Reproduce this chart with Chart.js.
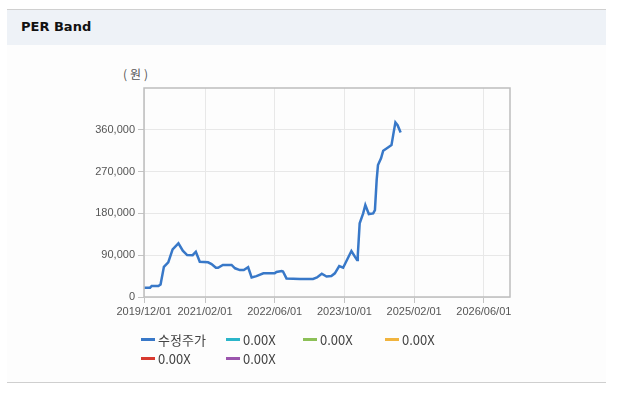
<!DOCTYPE html>
<html>
<head>
<meta charset="utf-8">
<script src="https://cdn.jsdelivr.net/npm/chart.js@4"></script>
<style>
  body { margin: 0; background: #fff; width: 617px; height: 397px; position: relative; overflow: hidden; font-family: Arial, "Liberation Sans", sans-serif; }
  #titlebar { position: absolute; left: 7px; top: 9px; width: 599px; height: 35px; border-top: 1px solid #d0d0d0; background: #eef2f7; }
  #titlebar span { position: absolute; left: 14px; top: 9px; font: bold 13px "DejaVu Sans", sans-serif; color: #111; }
  #panel { position: absolute; left: 7px; top: 45px; width: 599px; height: 337px; background: #fdfdfd; border-bottom: 1px solid #cfcfcf; }
  #unit { position: absolute; left: 123px; top: 65px; font: 12px "Noto Sans CJK KR", sans-serif; color: #555; letter-spacing: 3px; }
  #chart { position: absolute; left: 0; top: 0; }
  #legend { position: absolute; left: 141px; top: 330px; display: grid; grid-template-columns: 85px 77px 82px 80px; row-gap: 1px; }
  .item { display: flex; align-items: center; height: 18px; font: 13px "Noto Sans CJK KR", Arial, sans-serif; color: #444; }
  .item i { display: inline-block; width: 14px; height: 3px; margin-right: 3px; }
</style>
</head>
<body>
<div id="titlebar"><span>PER Band</span></div>
<div id="panel"></div>
<div id="unit">(원)</div>
<canvas id="chart" width="617" height="397"></canvas>
<div id="legend"></div>
<script>
// 수정주가 (adjusted price)
const dates = [
  "2019/12/03", "2020/01/13", "2020/01/24", "2020/03/10", "2020/03/25", "2020/04/18",
  "2020/05/18", "2020/06/18", "2020/07/28", "2020/08/28", "2020/09/28", "2020/11/06",
  "2020/11/28", "2020/12/25", "2021/02/22", "2021/03/16", "2021/04/16", "2021/05/01",
  "2021/06/04", "2021/08/04", "2021/08/28", "2021/10/01", "2021/10/28", "2021/11/28",
  "2021/12/22", "2022/01/25", "2022/03/13", "2022/06/01", "2022/06/13", "2022/07/19",
  "2022/07/28", "2022/08/22", "2022/11/25", "2023/02/25", "2023/03/22", "2023/04/25",
  "2023/05/28", "2023/07/01", "2023/07/25", "2023/08/25", "2023/09/22", "2023/11/19",
  "2023/12/13", "2023/12/28", "2024/01/03", "2024/01/16", "2024/02/10", "2024/02/25",
  "2024/03/19", "2024/04/19", "2024/05/01", "2024/05/13", "2024/05/22", "2024/06/13",
  "2024/06/28", "2024/08/01", "2024/08/25", "2024/09/07", "2024/09/22", "2024/10/07",
  "2024/10/28"
];
const prices = [
  20000, 20000, 23700, 23700, 27000, 65000,
  74700, 102700, 115600, 99700, 90400, 90000,
  97500, 76000, 74700, 71000, 63000, 63000,
  69000, 69000, 61800, 58000, 58000, 64000,
  42000, 45000, 51000, 51000, 53800, 56000,
  55000, 40000, 38800, 38800, 42000, 50000,
  44000, 45000, 51000, 66700, 63000, 99000,
  86800, 79700, 90000, 158700, 180000, 198000,
  178700, 180000, 187000, 252000, 284000, 298600,
  315000, 322000, 327000, 349000, 376000, 370000,
  354000
];
const bandLabels = ["0.00X", "0.00X", "0.00X", "0.00X", "0.00X"];
const bandColors = ["#2bb5c9", "#8cc057", "#f1b43e", "#d8392f", "#9b55ad"];
const xTickLabels = ["2019/12/01", "2021/02/01", "2022/06/01", "2023/10/01", "2025/02/01", "2026/06/01"];
const xStart = "2019/12/01";
const xEnd = "2026/12/01";
const yMax = 450000;
const yStep = 90000;

// months since the axis start, used as the linear x value
function monthIndex(s) {
  const [y, m, d] = s.split("/").map(Number);
  const [y0, m0] = xStart.split("/").map(Number);
  return (y - y0) * 12 + (m - m0) + (d - 1) / 30;
}

const priceData = dates.map((d, i) => ({ x: monthIndex(d), y: prices[i] }));

const datasets = [{
  label: "수정주가", data: priceData, borderColor: "#3878c8", borderWidth: 2.5,
  pointRadius: 0, tension: 0, fill: false
}];
bandLabels.forEach((l, i) => datasets.push({ label: l, data: [], borderColor: bandColors[i], pointRadius: 0 }));

const boxPlugin = {
  id: "box",
  afterDraw(chart) {
    const a = chart.chartArea, ctx = chart.ctx;
    ctx.save();
    ctx.strokeStyle = "#bdbdbd";
    ctx.lineWidth = 1.5;
    ctx.strokeRect(a.left, a.top, a.right - a.left, a.bottom - a.top);
    ctx.restore();
  }
};

new Chart(document.getElementById("chart"), {
  type: "line",
  data: { datasets },
  options: {
    responsive: false,
    animation: false,
    layout: { padding: { left: 0, top: 88, right: 107, bottom: 70 } },
    plugins: { legend: { display: false }, tooltip: { enabled: false } },
    scales: {
      x: {
        type: "linear", min: monthIndex(xStart), max: monthIndex(xEnd),
        afterBuildTicks: s => { s.ticks = xTickLabels.map(t => ({ value: monthIndex(t), label: t })); },
        afterFit: s => { s.height = 30; },
        ticks: { maxRotation: 0, autoSkip: false, padding: 2, color: "#555",
                 font: { family: "Arial, 'Liberation Sans'", size: 11 },
                 callback: (v, i) => xTickLabels[i] },
        grid: { color: "#e8e8e8", tickColor: "#c4c4c4", tickLength: 6 },
        border: { display: false }
      },
      y: {
        min: 0, max: yMax,
        afterBuildTicks: s => { s.ticks = s.ticks.filter(t => t.value < yMax); },
        afterFit: s => { s.width = 144; },
        ticks: { stepSize: yStep, padding: 3, color: "#555",
                 font: { family: "Arial, 'Liberation Sans'", size: 11 }, callback: v => v.toLocaleString("en-US") },
        grid: { color: "#e8e8e8", tickColor: "#c4c4c4", tickLength: 6 },
        border: { display: false }
      }
    }
  },
  plugins: [boxPlugin]
});

const legend = document.getElementById("legend");
datasets.forEach(ds => {
  const el = document.createElement("div");
  el.className = "item";
  el.innerHTML = `<i style="background:${ds.borderColor}"></i>${ds.label}`;
  legend.appendChild(el);
});
</script>
</body>
</html>
